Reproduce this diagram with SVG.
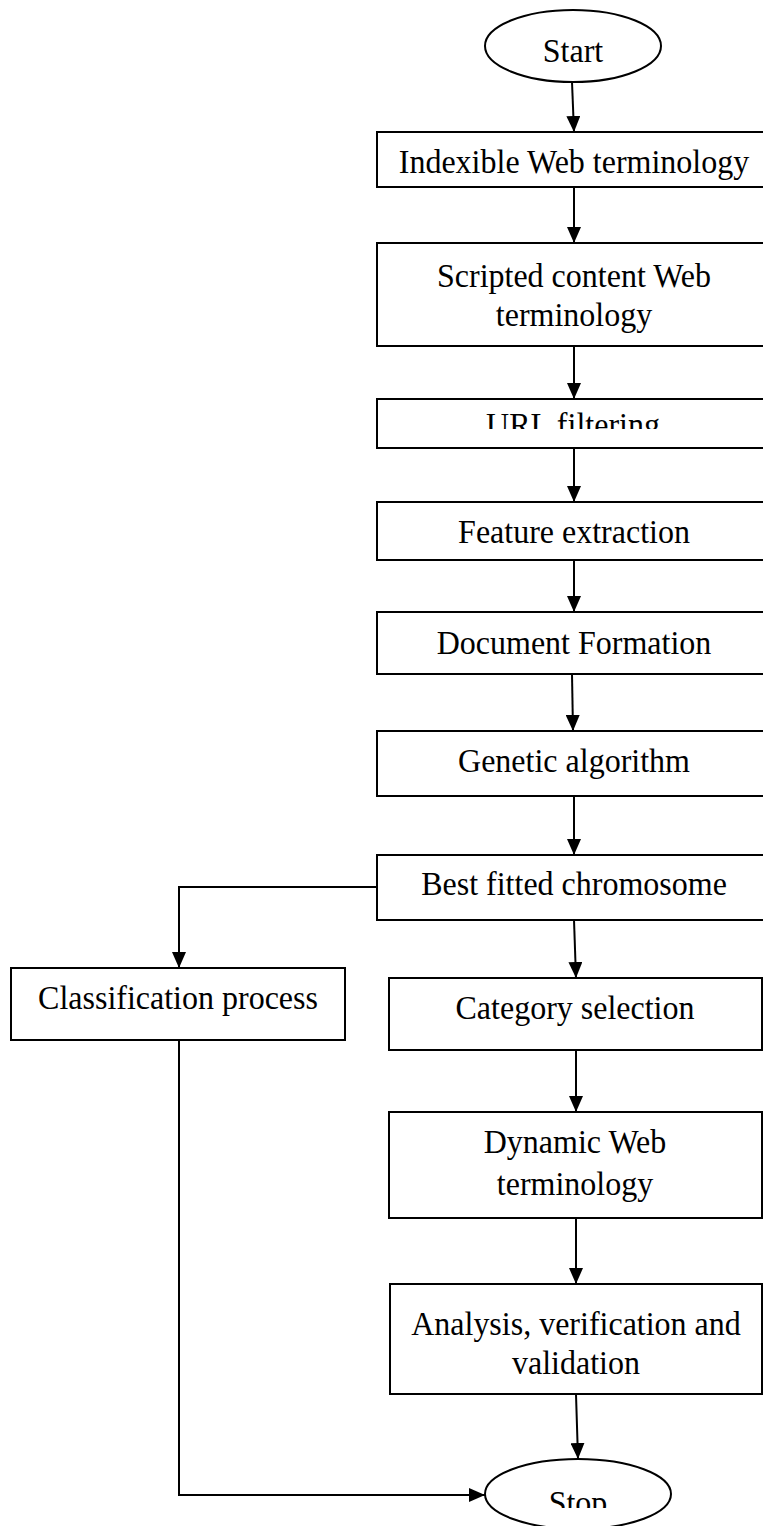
<svg xmlns="http://www.w3.org/2000/svg" width="763" height="1526" viewBox="0 0 763 1526">
  <style>
    .box { fill: #fff; stroke: #000; stroke-width: 2; }
    .lbl { font-family: "Liberation Serif", "Times New Roman", serif; font-size: 32px; fill: #000; text-anchor: middle; }
    .edge { fill: none; stroke: #000; stroke-width: 2; }
  </style>
  <defs>
    <marker id="arrow" viewBox="0 0 16 14" refX="16" refY="7" markerWidth="16" markerHeight="14" markerUnits="userSpaceOnUse" orient="auto">
      <path d="M0,0 L16,7 L0,14 Z" fill="#000"/>
    </marker>
    <clipPath id="clip-url"><rect x="377" y="399" width="386" height="30"/></clipPath>
    <clipPath id="clip-stop"><rect x="485" y="1459" width="186" height="49"/></clipPath>
  </defs>
  <rect width="763" height="1526" fill="#fff"/>

  <!-- labels use a slightly tall face: each is scaled 1.08 vertically about its baseline -->
  <g id="start">
    <ellipse class="box" cx="573" cy="46" rx="88" ry="36"/>
    <text class="lbl" transform="translate(573,62) scale(1,1.08)">Start</text>
  </g>

  <g id="indexible">
    <rect class="box" x="377" y="132" width="400" height="55"/>
    <text class="lbl" transform="translate(574,173) scale(1,1.08)">Indexible Web terminology</text>
  </g>

  <g id="scripted">
    <rect class="box" x="377" y="243" width="400" height="103"/>
    <text class="lbl" transform="translate(574,287) scale(1,1.08)">Scripted content Web</text>
    <text class="lbl" transform="translate(574,326) scale(1,1.08)">terminology</text>
  </g>

  <g id="url-filtering">
    <rect class="box" x="377" y="399" width="400" height="49"/>
    <g clip-path="url(#clip-url)">
      <text class="lbl" transform="translate(573,436) scale(1,1.08)">URL filtering</text>
    </g>
  </g>

  <g id="feature-extraction">
    <rect class="box" x="377" y="502" width="400" height="58"/>
    <text class="lbl" transform="translate(574,543) scale(1,1.08)">Feature extraction</text>
  </g>

  <g id="document-formation">
    <rect class="box" x="377" y="612" width="400" height="62"/>
    <text class="lbl" transform="translate(574,654) scale(1,1.08)">Document Formation</text>
  </g>

  <g id="genetic-algorithm">
    <rect class="box" x="377" y="731" width="400" height="65"/>
    <text class="lbl" transform="translate(574,772) scale(1,1.08)">Genetic algorithm</text>
  </g>

  <g id="best-fitted">
    <rect class="box" x="377" y="855" width="400" height="65"/>
    <text class="lbl" transform="translate(574,895) scale(1,1.08)">Best fitted chromosome</text>
  </g>

  <g id="classification">
    <rect class="box" x="11" y="968" width="334" height="72"/>
    <text class="lbl" transform="translate(178,1009) scale(1,1.08)">Classification process</text>
  </g>

  <g id="category-selection">
    <rect class="box" x="389" y="978" width="373" height="72"/>
    <text class="lbl" transform="translate(575,1019) scale(1,1.08)">Category selection</text>
  </g>

  <g id="dynamic">
    <rect class="box" x="389" y="1112" width="373" height="106"/>
    <text class="lbl" transform="translate(575,1153) scale(1,1.08)">Dynamic Web</text>
    <text class="lbl" transform="translate(575,1195) scale(1,1.08)">terminology</text>
  </g>

  <g id="analysis">
    <rect class="box" x="390" y="1284" width="372" height="110"/>
    <text class="lbl" transform="translate(576,1335) scale(1,1.08)">Analysis, verification and</text>
    <text class="lbl" transform="translate(576,1374) scale(1,1.08)">validation</text>
  </g>

  <g id="stop">
    <ellipse class="box" cx="578" cy="1494" rx="93" ry="35"/>
    <g clip-path="url(#clip-stop)">
      <text class="lbl" transform="translate(578,1514) scale(1,1.08)">Stop</text>
    </g>
  </g>

  <g id="connectors">
    <line class="edge" x1="572" y1="82" x2="574" y2="132" marker-end="url(#arrow)"/>
    <line class="edge" x1="574" y1="187" x2="574" y2="243" marker-end="url(#arrow)"/>
    <line class="edge" x1="574" y1="346" x2="574" y2="399" marker-end="url(#arrow)"/>
    <line class="edge" x1="574" y1="448" x2="574" y2="502" marker-end="url(#arrow)"/>
    <line class="edge" x1="574" y1="560" x2="574" y2="612" marker-end="url(#arrow)"/>
    <line class="edge" x1="572" y1="674" x2="573" y2="731" marker-end="url(#arrow)"/>
    <line class="edge" x1="574" y1="796" x2="574" y2="855" marker-end="url(#arrow)"/>
    <line class="edge" x1="574" y1="920" x2="576" y2="978" marker-end="url(#arrow)"/>
    <line class="edge" x1="576" y1="1050" x2="576" y2="1112" marker-end="url(#arrow)"/>
    <line class="edge" x1="576" y1="1218" x2="576" y2="1284" marker-end="url(#arrow)"/>
    <line class="edge" x1="576" y1="1394" x2="578" y2="1459" marker-end="url(#arrow)"/>
    <polyline class="edge" points="377,887 179,887 179,968" marker-end="url(#arrow)"/>
    <polyline class="edge" points="179,1040 179,1495 485,1495" marker-end="url(#arrow)"/>
  </g>
</svg>
